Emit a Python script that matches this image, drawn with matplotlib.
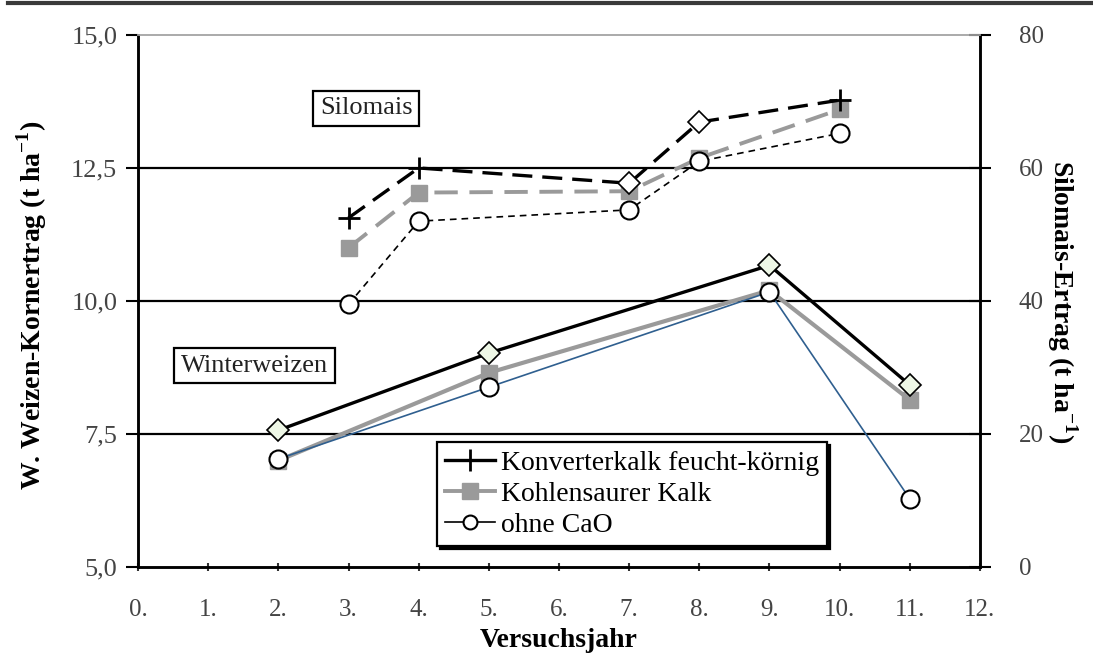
import matplotlib.pyplot as plt
from matplotlib.lines import Line2D
from matplotlib.ticker import FuncFormatter

plt.rcParams['font.family'] = ['Liberation Serif', 'DejaVu Serif']
plt.rcParams['mathtext.fontset'] = 'custom'
plt.rcParams['mathtext.rm'] = 'Liberation Serif'
plt.rcParams['mathtext.bf'] = 'Liberation Serif:bold'

# Winterweizen (left axis, t/ha)
wheat_years = [2, 5, 9, 11]
wheat_konverter = [7.57, 9.02, 10.67, 8.42]
wheat_kohlensauer = [7.0, 8.65, 10.2, 8.14]
wheat_ohne = [7.03, 8.38, 10.17, 6.28]

# Silomais (right axis, t/ha)
mais_years = [3, 4, 7, 8, 10]
mais_konverter = [52.5, 60.0, 57.7, 66.9, 70.2]
mais_kohlensauer = [48.0, 56.3, 56.5, 61.5, 68.8]
mais_ohne = [39.5, 52.0, 53.7, 61.0, 65.2]

x_ticks = list(range(0, 13))
left_ticks = [5.0, 7.5, 10.0, 12.5, 15.0]
right_ticks = [0, 20, 40, 60, 80]

labels = ["Konverterkalk feucht-körnig", "Kohlensaurer Kalk", "ohne CaO"]

fig = plt.figure(figsize=(10.93, 6.56), dpi=100)
ax = fig.add_axes([0.1263, 0.1357, 0.7703, 0.8110])
ax2 = ax.twinx()

ax.set_xlim(0, 12)
ax.set_ylim(5, 15)
ax2.set_ylim(0, 80)

# horizontal grid lines
for y in [7.5, 10.0, 12.5]:
    ax.axhline(y, color='black', lw=1.6, zorder=1)

gray = '#9a9a9a'
blue = '#2f5f8f'

# wheat
ax.plot(wheat_years, wheat_kohlensauer, color=gray, lw=3, marker='s', ms=11,
        mfc=gray, mec=gray, zorder=3)
ax.plot(wheat_years, wheat_ohne, color=blue, lw=1.2, marker='o', ms=13,
        mfc='white', mec='black', mew=1.5, zorder=4)
ax.plot(wheat_years, wheat_konverter, color='black', lw=2.4, marker='D', ms=11,
        mfc='#eef7e6', mec='black', mew=1.2, zorder=5)

# silage maize
ax2.plot(mais_years, mais_kohlensauer, color=gray, lw=2.8, ls=(0, (6, 3)),
         marker='s', ms=12, mfc=gray, mec=gray, zorder=3)
ax2.plot(mais_years, mais_ohne, color='black', lw=1.2, ls=(0, (4, 3)),
         marker='o', ms=13, mfc='white', mec='black', mew=1.5, zorder=4)
ax2.plot(mais_years, mais_konverter, color='black', lw=2.4, ls=(0, (6, 3)),
         zorder=5)
plus_idx = [0, 1, 4]
diam_idx = [2, 3]
ax2.plot([mais_years[i] for i in plus_idx], [mais_konverter[i] for i in plus_idx],
         ls='none', marker='+', ms=16, mew=2, color='black', zorder=6)
ax2.plot([mais_years[i] for i in diam_idx], [mais_konverter[i] for i in diam_idx],
         ls='none', marker='D', ms=11, mfc='white', mec='black', mew=1.2, zorder=6)

# axes styling
ax.set_xticks(x_ticks)
ax.set_xticklabels([f"{t}." for t in x_ticks])
ax.set_yticks(left_ticks)
ax.yaxis.set_major_formatter(FuncFormatter(lambda v, p: f"{v:.1f}".replace('.', ',')))
ax2.set_yticks(right_ticks)

ax.tick_params(axis='x', direction='inout', length=6, width=1.5, labelsize=18,
               pad=20, colors='#333333', labelcolor='#444444')
ax.tick_params(axis='y', direction='out', length=9, width=1.5, labelsize=19,
               pad=6, labelcolor='#444444')
ax2.tick_params(axis='y', direction='inout', length=16, width=1.5, labelsize=18,
                pad=20, labelcolor='#444444')

for a in (ax, ax2):
    a.spines['top'].set_color('#aaaaaa')
    a.spines['top'].set_linewidth(1.2)
    for s in ('left', 'right', 'bottom'):
        a.spines[s].set_linewidth(1.8)
        a.spines[s].set_color('black')

ax.set_xlabel("Versuchsjahr", fontsize=20, fontweight='bold', labelpad=5)
fig.text(0.029, 0.535, r"W. Weizen-Kornertrag (t ha$^{\mathbf{-1}}$)", rotation=90,
         fontsize=20, fontweight='bold', ha='center', va='center')
fig.text(0.972, 0.54, r"Silomais-Ertrag (t ha$^{\mathbf{-1}}$)", rotation=-90,
         fontsize=20, fontweight='bold', ha='center', va='center')

# crop labels
box = dict(boxstyle='square,pad=0.25', fc='white', ec='black', lw=1.6)
ax.text(3.25, 13.62, "Silomais", fontsize=19, ha='center', va='center', bbox=box,
        color='#222222', zorder=7)
ax.text(1.66, 8.78, "Winterweizen", fontsize=19, ha='center', va='center', bbox=box,
        color='#222222', zorder=7)

# legend
handles = [
    Line2D([], [], color='black', lw=2.4, marker='+', ms=16, mew=2),
    Line2D([], [], color=gray, lw=2.8, marker='s', ms=11, mfc=gray, mec=gray),
    Line2D([], [], color='black', lw=1.2, marker='o', ms=10, mfc='white', mec='black', mew=1.5),
]
leg = ax2.legend(handles, labels, loc='upper left', bbox_to_anchor=(0.355, 0.235), fontsize=20,
                 frameon=True, fancybox=False, shadow={'color': 'black', 'alpha': 1},
                 edgecolor='black', framealpha=1, handlelength=1.8, handletextpad=0.2,
                 labelspacing=0.2, borderpad=0.3, borderaxespad=0)
leg.get_frame().set_linewidth(1.6)
leg.set_zorder(10)

# rule at the top of the figure
fig.add_artist(Line2D([0.007, 1.0], [0.995, 0.995], color='#3a3a3a', lw=3))

fig.savefig("out.png", dpi=100)
